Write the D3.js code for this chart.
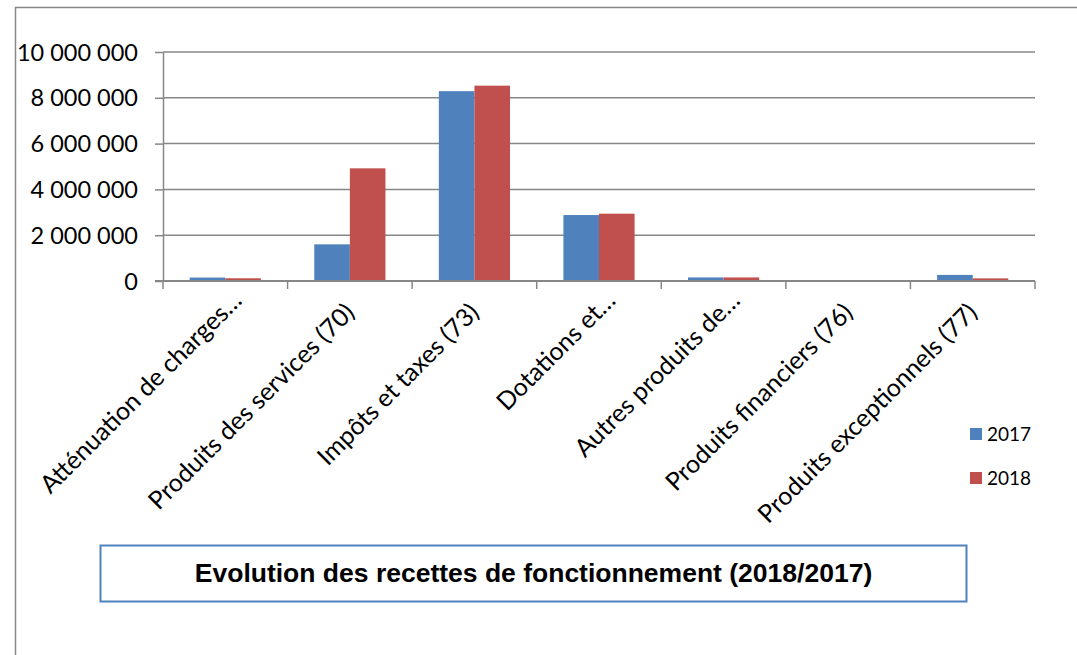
<!DOCTYPE html>
<html lang="fr">
<head>
    <meta charset="UTF-8"/>
    <title>Evolution des recettes de fonctionnement</title>
    <script src="https://cdnjs.cloudflare.com/ajax/libs/d3/7.8.5/d3.min.js"></script>
    <style>
        body { margin: 0; background: #fff; }
        text { font-family: Lato, "Open Sans", sans-serif; fill: #000; }
        .title { font-family: "Liberation Sans", Arial, sans-serif; font-weight: bold; }
    </style>
</head>
<body>
<div id="chart"></div>

<script>
    // Data
    const categories = [
        "Atténuation de charges…",
        "Produits des services (70)",
        "Impôts et taxes (73)",
        "Dotations et…",
        "Autres produits de…",
        "Produits financiers (76)",
        "Produits exceptionnels (77)"
    ];
    const years = ["2017", "2018"];
    const values2017 = [150000, 1600000, 8290000, 2880000, 155000, 40000, 265000];
    const values2018 = [120000, 4920000, 8530000, 2940000, 155000, 5000, 115000];
    const yTicks = [0, 2000000, 4000000, 6000000, 8000000, 10000000];
    const chartTitle = "Evolution des recettes de fonctionnement (2018/2017)";

    const seriesColors = {"2017": "#4F81BD", "2018": "#C0504D"};
    const width = 1077;
    const height = 655;
    const plot = {left: 163, right: 1035, top: 52, bottom: 281};

    const rows = categories.map((c, i) => ({
        category: c,
        values: [
            {year: "2017", value: values2017[i]},
            {year: "2018", value: values2018[i]}
        ]
    }));

    const svg = d3
        .select("#chart")
        .append("svg")
        .attr("width", width)
        .attr("height", height);

    svg.append("rect").attr("width", width).attr("height", height).attr("fill", "#fff");

    // Outer chart border (only left and top visible)
    svg
        .append("rect")
        .attr("x", 15.5)
        .attr("y", 7.5)
        .attr("width", 1200)
        .attr("height", 800)
        .attr("fill", "none")
        .attr("stroke", "#878787")
        .attr("stroke-width", 1.5);

    // Scales
    const x = d3
        .scaleBand()
        .domain(categories)
        .range([plot.left, plot.right]);

    const xInner = d3
        .scaleBand()
        .domain(years)
        .range([0, x.bandwidth()])
        .paddingInner(0)
        .paddingOuter(0.75);

    const y = d3
        .scaleLinear()
        .domain([0, 10000000])
        .range([plot.bottom, plot.top]);

    const fr = d3.formatLocale({decimal: ",", thousands: " ", grouping: [3], currency: ["", " €"]});
    const fmt = fr.format(",d");

    // Grid lines
    svg
        .append("g")
        .selectAll("line")
        .data(yTicks.filter(d => d > 0))
        .enter()
        .append("line")
        .attr("x1", plot.left)
        .attr("x2", plot.right)
        .attr("y1", d => y(d))
        .attr("y2", d => y(d))
        .attr("stroke", "#878787")
        .attr("stroke-width", 1.5);

    // Y axis
    const yAxis = svg
        .append("g")
        .attr("transform", `translate(${plot.left},0)`)
        .call(d3.axisLeft(y).tickValues(yTicks).tickFormat(fmt).tickSize(8).tickSizeOuter(0).tickPadding(17));
    yAxis.select(".domain").attr("stroke", "#878787").attr("stroke-width", 1.5);
    yAxis.selectAll(".tick line").attr("stroke", "#878787").attr("stroke-width", 1.5);
    yAxis.selectAll(".tick text").attr("font-size", 23.5).attr("font-family", "Lato").attr("dy", "0.34em");

    // Bars
    const groups = svg
        .append("g")
        .selectAll("g")
        .data(rows)
        .enter()
        .append("g")
        .attr("transform", d => `translate(${x(d.category)},0)`);

    groups
        .selectAll("rect")
        .data(d => d.values)
        .enter()
        .append("rect")
        .attr("x", d => xInner(d.year))
        .attr("width", xInner.bandwidth())
        .attr("y", d => y(d.value))
        .attr("height", d => y(0) - y(d.value))
        .attr("fill", d => seriesColors[d.year]);

    // X axis line and boundary ticks
    const xAxis = svg.append("g");
    xAxis
        .append("line")
        .attr("x1", plot.left - 8)
        .attr("x2", plot.right)
        .attr("y1", y(0))
        .attr("y2", y(0))
        .attr("stroke", "#878787")
        .attr("stroke-width", 2);

    const bounds = categories.map(c => x(c)).concat([x.range()[1]]);
    xAxis
        .selectAll(".xtick")
        .data(bounds)
        .enter()
        .append("line")
        .attr("class", "xtick")
        .attr("x1", d => d)
        .attr("x2", d => d)
        .attr("y1", y(0))
        .attr("y2", y(0) + 8)
        .attr("stroke", "#878787")
        .attr("stroke-width", 1.5);

    // Rotated category labels (truncated ones sit a bit further out, as in Excel)
    xAxis
        .selectAll(".xlabel")
        .data(categories)
        .enter()
        .append("text")
        .attr("class", "xlabel")
        .attr("text-anchor", "end")
        .attr("font-size", 25)
        .attr("x", d => d.endsWith("…") ? 17 : 0)
        .attr("transform", d => {
            const cx = x(d) + x.bandwidth() / 2;
            return `translate(${cx + 6},${314}) rotate(-45)`;
        })
        .text(d => d);

    // Legend
    const legend = svg
        .append("g")
        .selectAll("g")
        .data(years)
        .enter()
        .append("g")
        .attr("transform", (d, i) => `translate(970,${428 + i * 44})`);

    legend
        .append("rect")
        .attr("width", 12)
        .attr("height", 12)
        .attr("fill", d => seriesColors[d]);

    legend
        .append("text")
        .attr("x", 17)
        .attr("y", 6)
        .attr("dy", "0.36em")
        .attr("font-size", 19)
        .text(d => d);

    // Title box
    svg
        .append("rect")
        .attr("x", 100.5)
        .attr("y", 545.5)
        .attr("width", 866)
        .attr("height", 56)
        .attr("fill", "#fff")
        .attr("stroke", "#4F81BD")
        .attr("stroke-width", 2);

    svg
        .append("text")
        .attr("class", "title")
        .attr("x", 533.5)
        .attr("y", 573)
        .attr("dy", "0.35em")
        .attr("text-anchor", "middle")
        .attr("font-size", 26.5)
        .text(chartTitle);
</script>
</body>
</html>
